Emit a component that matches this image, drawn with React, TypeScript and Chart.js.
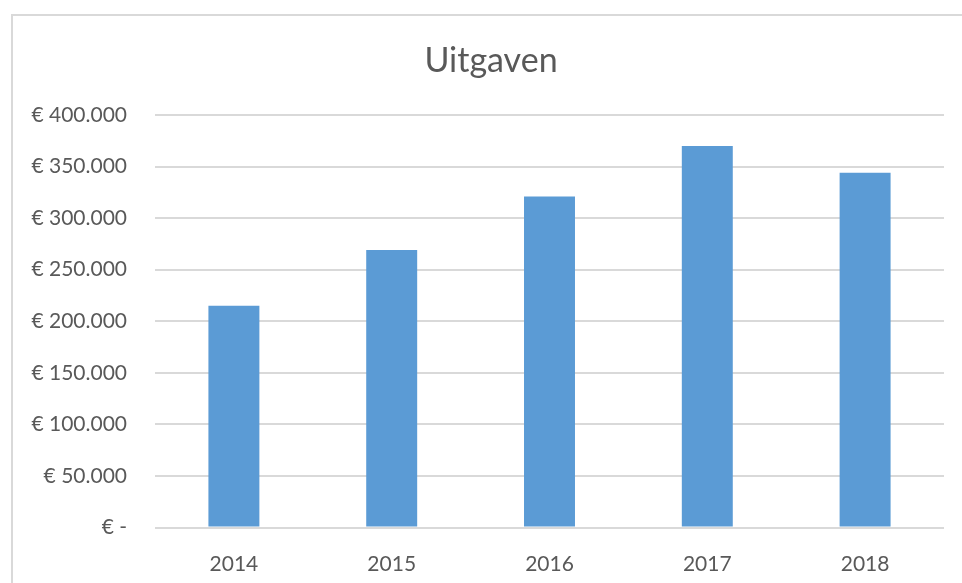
import React, { useEffect, useRef } from "react";
import { Chart, registerables } from "chart.js";

Chart.register(...registerables);

const title = "Uitgaven";
const years = ["2014", "2015", "2016", "2017", "2018"];
const uitgaven = [215000, 269000, 321000, 370000, 344000];
const yMin = 0;
const yMax = 400000;
const yStep = 50000;

const fontFamily = "Lato, 'Open Sans', sans-serif";
const textColor = "#595959";

function formatEuro(v: number): string {
  if (v === 0) return "€ -";
  const s = Math.round(v).toString().replace(/\B(?=(\d{3})+(?!\d))/g, ".");
  return "€ " + s;
}

const titlePlugin = {
  id: "customTitle",
  afterDraw(chart: any) {
    const ctx = chart.ctx;
    ctx.save();
    ctx.font = `34px ${fontFamily}`;
    ctx.fillStyle = textColor;
    ctx.textAlign = "center";
    ctx.textBaseline = "middle";
    ctx.fillText(title, 491, 61);
    ctx.restore();
  },
};

export default function App() {
  const ref = useRef<HTMLCanvasElement | null>(null);
  useEffect(() => {
    if (!ref.current) return;
    const chart = new Chart(ref.current, {
      type: "bar",
      data: {
        labels: years,
        datasets: [
          {
            label: title,
            data: uitgaven,
            backgroundColor: "#5b9bd5",
            borderWidth: 0,
            barPercentage: 1,
            categoryPercentage: 0.323,
          },
        ],
      },
      options: {
        animation: false,
        responsive: false,
        maintainAspectRatio: false,
        layout: { padding: { left: 0, right: 18, top: 115, bottom: 0 } },
        plugins: {
          legend: { display: false },
          title: { display: false },
          tooltip: { enabled: false },
        },
        scales: {
          x: {
            afterFit(scale: any) {
              scale.height = 55.5;
            },
            grid: { display: false, drawTicks: false },
            border: { display: false },
            ticks: {
              color: textColor,
              font: { family: fontFamily, size: 21 },
              padding: 24,
            },
          },
          y: {
            min: yMin,
            max: yMax,
            afterFit(scale: any) {
              scale.width = 155;
            },
            grid: { color: "#d9d9d9", lineWidth: 2, drawTicks: false },
            border: { display: false },
            ticks: {
              stepSize: yStep,
              color: textColor,
              font: { family: fontFamily, size: 21 },
              padding: 28,
              callback: (v: any) => formatEuro(Number(v)),
            },
          },
        },
      },
      plugins: [titlePlugin],
    });
    return () => chart.destroy();
  }, []);
  return (
    <div style={{ position: "fixed", left: 0, top: 0, width: 962, height: 583, background: "#fff", overflow: "hidden" }}>
      <div
        style={{
          position: "absolute",
          left: 11,
          top: 14,
          width: 1000,
          height: 1000,
          border: "2px solid #d9d9d9",
          boxSizing: "border-box",
        }}
      />
      <canvas ref={ref} width={962} height={583} style={{ position: "absolute", left: 0, top: 0 }} />
    </div>
  );
}
